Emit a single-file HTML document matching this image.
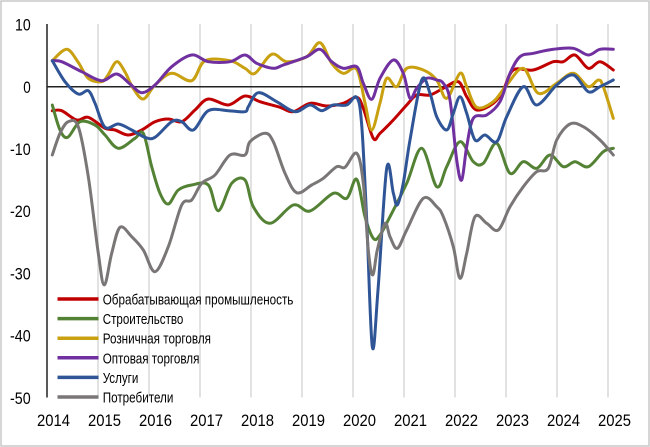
<!DOCTYPE html>
<html><head><meta charset="utf-8">
<style>
html,body{margin:0;padding:0;background:#fff;}
svg{display:block;}
text{font-family:"Liberation Sans",Arial,sans-serif;fill:#000;}
</style></head>
<body>
<svg id="c" width="650" height="447" viewBox="0 0 650 447" xmlns="http://www.w3.org/2000/svg">
<rect x="1" y="1" width="648" height="445" fill="#fff" stroke="#c8c8c8" stroke-width="1.5"/>
<g stroke="#d9d9d9" stroke-width="1.5">
<line x1="98" y1="24" x2="98" y2="397.5"/>
<line x1="149" y1="24" x2="149" y2="397.5"/>
<line x1="200" y1="24" x2="200" y2="397.5"/>
<line x1="251" y1="24" x2="251" y2="397.5"/>
<line x1="302" y1="24" x2="302" y2="397.5"/>
<line x1="353" y1="24" x2="353" y2="397.5"/>
<line x1="404" y1="24" x2="404" y2="397.5"/>
<line x1="455" y1="24" x2="455" y2="397.5"/>
<line x1="506" y1="24" x2="506" y2="397.5"/>
<line x1="557" y1="24" x2="557" y2="397.5"/>
<line x1="608" y1="24" x2="608" y2="397.5"/>
</g>
<line x1="47" y1="86.8" x2="620" y2="86.8" stroke="#222" stroke-width="1.5"/>
<line x1="47" y1="24" x2="47" y2="397.5" stroke="#222" stroke-width="1.5"/>

<g font-size="17" text-anchor="end">
<text x="30.7" y="30.5" textLength="15.7" lengthAdjust="spacingAndGlyphs">10</text>
<text x="30.7" y="92.8" textLength="7.5" lengthAdjust="spacingAndGlyphs">0</text>
<text x="30.7" y="155" textLength="20.7" lengthAdjust="spacingAndGlyphs">-10</text>
<text x="30.7" y="217.2" textLength="20.7" lengthAdjust="spacingAndGlyphs">-20</text>
<text x="30.7" y="279.4" textLength="20.7" lengthAdjust="spacingAndGlyphs">-30</text>
<text x="30.7" y="341.6" textLength="20.7" lengthAdjust="spacingAndGlyphs">-40</text>
<text x="30.7" y="403.8" textLength="20.7" lengthAdjust="spacingAndGlyphs">-50</text>
</g>
<g font-size="17" text-anchor="middle">
<text x="53.5" y="426" textLength="33" lengthAdjust="spacingAndGlyphs">2014</text>
<text x="104.5" y="426" textLength="33" lengthAdjust="spacingAndGlyphs">2015</text>
<text x="155.5" y="426" textLength="33" lengthAdjust="spacingAndGlyphs">2016</text>
<text x="206.5" y="426" textLength="33" lengthAdjust="spacingAndGlyphs">2017</text>
<text x="257.5" y="426" textLength="33" lengthAdjust="spacingAndGlyphs">2018</text>
<text x="308.5" y="426" textLength="33" lengthAdjust="spacingAndGlyphs">2019</text>
<text x="359.5" y="426" textLength="33" lengthAdjust="spacingAndGlyphs">2020</text>
<text x="410.5" y="426" textLength="33" lengthAdjust="spacingAndGlyphs">2021</text>
<text x="461.5" y="426" textLength="33" lengthAdjust="spacingAndGlyphs">2022</text>
<text x="512.5" y="426" textLength="33" lengthAdjust="spacingAndGlyphs">2023</text>
<text x="563.5" y="426" textLength="33" lengthAdjust="spacingAndGlyphs">2024</text>
<text x="614.5" y="426" textLength="33" lengthAdjust="spacingAndGlyphs">2025</text>
</g>

<g id="series" fill="none" stroke-width="3" stroke-linejoin="round" stroke-linecap="round">
<polyline id="s1" stroke="#C00000" points="52.3,110.7 61.7,110.7 76.7,120 88.3,117.3 105,128.3 115,130 128.3,135 141.7,130 155,121.7 168.3,119 181.7,121.7 195,110 208.3,99 228.3,105 245,96 260,101.7 280,107.3 293.3,111.7 310,103.3 326.7,106 343.3,103.3 356.7,97.3 363.3,108.3 373.3,138.3 380,133.3 393.3,120 406.7,105 416.7,95 430,95 443.3,88.3 458.3,81.7 466.7,96.7 476.7,110 493.3,103.3 503.3,90 513.3,70 533.3,70 553.3,61.7 563.3,61.7 575,55 588.3,68.3 600,61.7 613.3,70"/>
<polyline id="s2" stroke="#548235" points="52.3,105 60,130 67.7,137.3 80,121.7 95,125 105,135 118.3,148.3 135,138.3 143.3,133.3 151.7,166.7 160,193.3 168.3,204 178.3,190 191.7,185 208.3,185 218.3,210.7 231.7,183.3 245,180 253.3,206.7 270,223.3 293.3,205 310,211 333.3,193.3 346.7,198.3 356.7,179.3 365,216.7 373.3,238.3 380,235 390,216.7 406.7,183.3 421.7,148.3 436.7,186.7 446.7,166.7 460,141.7 473.3,161.7 483.3,163.3 496.7,143.3 510,173.3 523.3,161.7 536.7,168.3 550,155 563.3,166.7 575,161.7 588.3,166.7 603.3,151.7 613.3,148.3"/>
<polyline id="s3" stroke="#C9A010" points="52.3,60.7 66.7,49.3 78,62 88.3,78.3 101.7,81.7 108,75 116.7,61.7 125,72 133,88 143.3,99 155,85 171.7,73.3 191.7,80.7 205,60.7 230,60.7 245,68.3 255,73.3 271.7,54.3 286.7,61.7 306.7,56.7 320,42.7 331.7,63.3 343.3,73.3 356.7,69.3 365,103 371.7,130 380,103 386.7,78.3 396.7,86.7 406.7,68.3 423.3,70 436.7,80 446.7,98.3 460,73.3 466.7,86.7 476.7,107.3 493.3,101.7 506.7,85 523.3,68.3 538.3,93.3 556.7,83.3 573.3,73.3 588.3,86.7 598.3,80 603.3,86.7 613.3,118.3"/>
<polyline id="s4" stroke="#7030A0" points="52.3,60.7 61.7,61.7 81.7,71.7 101.7,80.7 116.7,74 130,84 141.7,92.7 155,85 171.7,66.7 191.7,55 208.3,61.7 230,61.7 245,55 256.7,63.3 273.3,68.3 283.3,65 306.7,56.7 320,49.3 331.7,61.7 343.3,68.3 356.7,66.7 363.3,83.3 371.7,99.3 380,78.3 393.3,60 403.3,73.3 410,98.3 416.7,88.3 426.7,78.3 436.7,80 443.3,83.3 450,100 456.7,160 461.7,180 466.7,146.7 473.3,118.3 486.7,115 500,101.7 510,73.3 520,56.7 533.3,53.3 553.3,49.3 573.3,48.3 588.3,55 600,49.3 613.3,49.3"/>
<polyline id="s5" stroke="#2F5597" points="52.3,60.7 65,81.7 78.3,94 88.3,90.7 95,103.3 105,127.3 118.3,124 131.7,130 145,137.3 155,137.3 171.7,121.7 181.7,121.7 193.3,130 208.3,110.7 228.3,110.7 245,111.7 248.3,106.7 258.3,92.7 276.7,101.7 295,111.7 310,105 321.7,110.7 333.3,105 346.7,105 356.7,97.3 361.7,125 366.7,220 372.3,346.7 378,290 386.7,168.3 393.3,193 397.3,205 403.3,183 410,140 421.7,80 430,93.3 436.7,116.7 446.7,130 453.3,113.3 460,96.7 466.7,113.3 475,140 485,135 496.7,141.7 506.7,116.7 523.3,86.7 536.7,105 556.7,85 573.3,75 588.3,91.7 600,86.7 613.3,80"/>
<polyline id="s6" stroke="#7A7676" points="52.3,155 60,133.3 68.3,121.7 78.3,126.7 88.3,176.7 98.3,253.3 104.3,285 111.7,253.3 120,227.3 131.7,236.7 143.3,250 155,271.7 168.3,246.7 181.7,205 191.7,200 201.7,183.3 215,175 230,155 245,155 250,141.7 265,133.3 273.3,141.7 285,173.3 296.7,192.7 311.7,185 323.3,178.3 336.7,166.7 345,167.3 356.7,153.3 363.3,183.3 368.3,250 372.7,275 377.3,250 385,223.3 390,236.7 397.3,248.3 406.7,230 423.3,198.3 436.7,206.7 443.3,216.7 453.3,246.7 460,278.3 466.7,253.3 475,216.7 486.7,223.3 498.3,230 510,206.7 523.3,186.7 536.7,171.7 548.3,168.3 556.7,140 570,124 583.3,126.7 600,140 613.3,155"/>
</g>

<g stroke-width="3.5">
<line x1="57.5" y1="299" x2="98.5" y2="299" stroke="#C00000"/>
<line x1="57.5" y1="318.6" x2="98.5" y2="318.6" stroke="#548235"/>
<line x1="57.5" y1="338.2" x2="98.5" y2="338.2" stroke="#C9A010"/>
<line x1="57.5" y1="357.8" x2="98.5" y2="357.8" stroke="#7030A0"/>
<line x1="57.5" y1="377.4" x2="98.5" y2="377.4" stroke="#2F5597"/>
<line x1="57.5" y1="397" x2="98.5" y2="397" stroke="#7A7676"/>
</g>
<g font-size="15">
<text x="102.7" y="304.5" textLength="190.7" lengthAdjust="spacingAndGlyphs">Обрабатывающая промышленость</text>
<text x="102.7" y="324.1" textLength="80.7" lengthAdjust="spacingAndGlyphs">Строительство</text>
<text x="102.7" y="343.7" textLength="108.3" lengthAdjust="spacingAndGlyphs">Розничная торговля</text>
<text x="102.7" y="363.3" textLength="96.7" lengthAdjust="spacingAndGlyphs">Оптовая торговля</text>
<text x="102.7" y="382.9" textLength="35.7" lengthAdjust="spacingAndGlyphs">Услуги</text>
<text x="102.7" y="402.5" textLength="70.7" lengthAdjust="spacingAndGlyphs">Потребители</text>
</g>
</svg>
<script>
(function(){
  var NS="http://www.w3.org/2000/svg";
  for(var i=1;i<=6;i++){
    var pl=document.getElementById("s"+i);
    if(!pl) continue;
    var pts=pl.getAttribute("points").trim().split(/\s+/).map(function(s){var a=s.split(",");return [parseFloat(a[0]),parseFloat(a[1])];});
    var d="M"+pts[0][0]+","+pts[0][1];
    for(var k=0;k<pts.length-1;k++){
      var p0=pts[k>0?k-1:0],p1=pts[k],p2=pts[k+1],p3=pts[k+2<pts.length?k+2:pts.length-1];
      var c1x=p1[0]+(p2[0]-p0[0])/6,c1y=p1[1]+(p2[1]-p0[1])/6;
      var c2x=p2[0]-(p3[0]-p1[0])/6,c2y=p2[1]-(p3[1]-p1[1])/6;
      d+=" C"+c1x.toFixed(2)+","+c1y.toFixed(2)+" "+c2x.toFixed(2)+","+c2y.toFixed(2)+" "+p2[0]+","+p2[1];
    }
    var path=document.createElementNS(NS,"path");
    path.setAttribute("d",d);
    path.setAttribute("stroke",pl.getAttribute("stroke"));
    pl.parentNode.replaceChild(path,pl);
  }
})();
</script>
</body></html>
